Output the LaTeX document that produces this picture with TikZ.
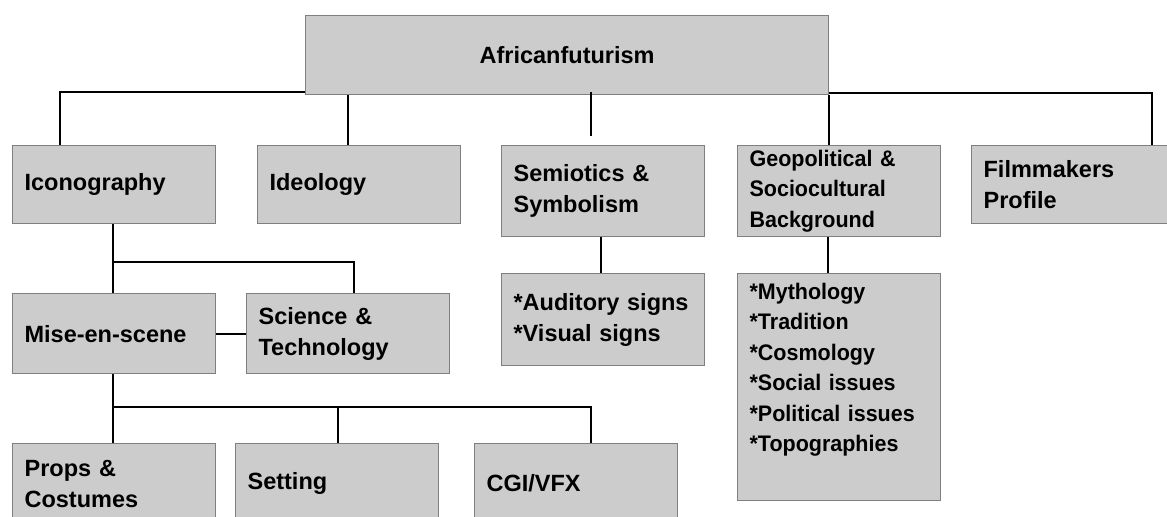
\documentclass[tikz,border=0pt]{standalone}
\usepackage{fontspec}
\setmainfont{Liberation Sans}
\newfontfamily\narrowfont[FakeStretch=0.955]{Liberation Sans}
\usetikzlibrary{calc}
\definecolor{boxfill}{HTML}{CCCCCC}
\definecolor{boxline}{HTML}{7F7F7F}
\tikzset{
  box/.style={draw=boxline, fill=boxfill, line width=0.6pt, anchor=north west, align=left,
    text width=89.5pt, inner xsep=6pt, inner ysep=2pt, font=\fontsize{11.75}{15.5}\selectfont\bfseries},
  smallbox/.style={box, font=\narrowfont\fontsize{11.25}{15.25}\selectfont\bfseries},
  link/.style={line width=1pt, black}
}
\begin{document}
\begin{tikzpicture}[x=0.5pt, y=-0.5pt]
\useasboundingbox (0,0) rectangle (1167,516);
\clip (0,0) rectangle (1167,516);
%top box
\node[box, text width=249.5pt, align=center, minimum height=39.5pt] (afro) at (305,15) {Africanfuturism};
%first row
\node[box, minimum height=39pt] (icon) at (12,145) {Iconography};
\node[box, minimum height=39pt] (ideo) at (257,145) {Ideology};
\node[box, minimum height=45.5pt] (semio) at (501,145) {Semiotics \&\\Symbolism};
\node[smallbox, minimum height=45.5pt] (geo) at (737,145) {Geopolitical \&\\Sociocultural\\Background};
\node[box, minimum height=39pt] (film) at (971,145) {Filmmakers\\Profile};
%second row
\node[box, minimum height=40pt] (mise) at (12,293) {Mise-en-scene};
\node[box, minimum height=40pt] (scitech) at (246,293) {Science \&\\Technology};
\node[box, minimum height=46pt] (audit) at (501,273) {*Auditory signs\\{*}Visual signs};
\node[smallbox, minimum height=113.5pt] (myth) at (737,273) {*Mythology\\{*}Tradition\\{*}Cosmology\\{*}Social issues\\{*}Political issues\\{*}Topographies\\\strut};
%third row
\node[box, minimum height=40pt] (props) at (12,443) {Props \&\\Costumes};
\node[box, minimum height=40pt] (setting) at (235,443) {Setting};
\node[box, minimum height=40pt] (cgi) at (474,443) {CGI/VFX};
%links from the top
\draw[link] ([yshift=1.5pt]afro.south west) -| (icon.north -| 60,0);
\draw[link] (afro.south -| 348,0) -- (ideo.north -| 348,0);
\draw[link] ($(afro.south -| 591,0)+(0,-3)$) -- ($(semio.north -| 591,0)+(0,-9)$);
\draw[link] ([yshift=1pt]afro.south east) -| (film.north -| 1152,0);
\draw[link] (afro.south east) -- (geo.north -| afro.south east);
%iconography branch
\coordinate (iconfork) at (113,262);
\draw[link] (icon.south -| 113,0) -- (mise.north -| 113,0);
\draw[link] (iconfork) -| (scitech.north -| 354,0);
\draw[link] (mise.east) -- (scitech.west);
%mise-en-scene branch
\coordinate (misefork) at (113,407);
\draw[link] (mise.south -| 113,0) -- (props.north -| 113,0);
\draw[link] (misefork -| 338,0) -- (setting.north -| 338,0);
\draw[link] (misefork) -| (cgi.north -| 591,0);
%lists
\draw[link] (semio.south -| 601,0) -- (audit.north -| 601,0);
\draw[link] (geo.south -| 828,0) -- (myth.north -| 828,0);
\end{tikzpicture}
\end{document}
